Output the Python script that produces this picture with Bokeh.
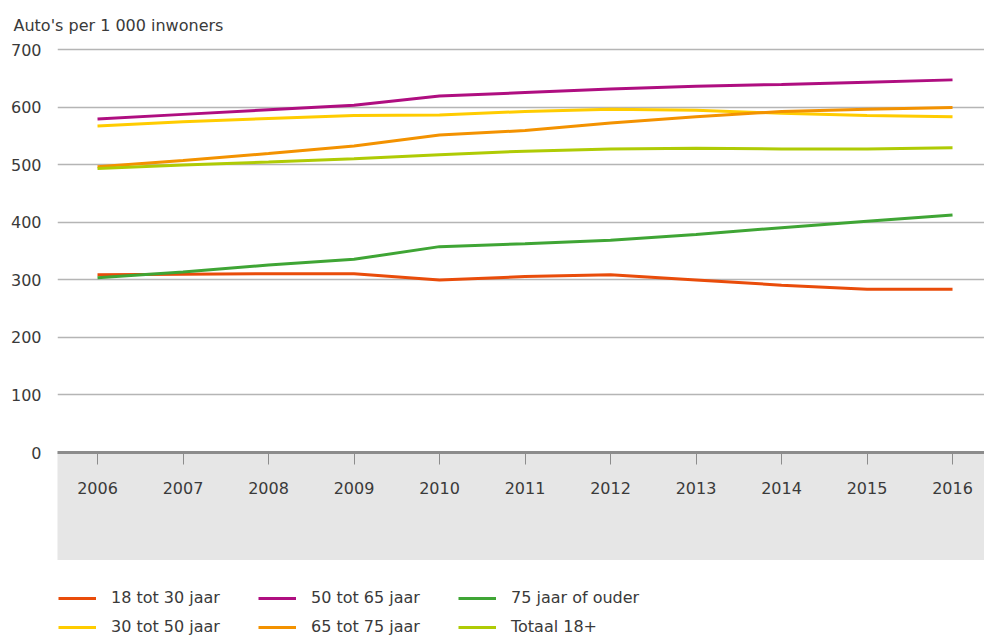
from bokeh.plotting import figure
from bokeh.models import Range1d, FixedTicker, Legend, LegendItem
from bokeh.layouts import column
from bokeh.embed import file_html
from bokeh.resources import INLINE

years = [2006, 2007, 2008, 2009, 2010, 2011, 2012, 2013, 2014, 2015, 2016]
y_ticks = [0, 100, 200, 300, 400, 500, 600, 700]

s18_30 = [309, 310, 311, 311, 300, 306, 309, 300, 291, 284, 284]
s30_50 = [568, 575, 581, 586, 587, 593, 597, 595, 590, 586, 584]
s50_65 = [580, 588, 596, 604, 620, 626, 632, 637, 640, 644, 648]
s65_75 = [497, 508, 520, 533, 552, 560, 573, 584, 593, 597, 600]
s75 = [304, 314, 326, 336, 358, 363, 369, 379, 391, 402, 413]
s_tot = [494, 500, 505, 511, 518, 524, 528, 529, 528, 528, 530]

labels = ["18 tot 30 jaar", "30 tot 50 jaar", "50 tot 65 jaar",
          "65 tot 75 jaar", "75 jaar of ouder", "Totaal 18+"]
colors = ["#E94C0A", "#FFCC00", "#AF0E80", "#F39200", "#3FA535", "#AFCB05"]
series = [s18_30, s30_50, s50_65, s65_75, s75, s_tot]

FONT = "DejaVu Sans"
FS = "16px"
TXT = "#3a3a3a"

p = figure(width=984, height=560, output_backend="svg", toolbar_location=None,
           x_range=Range1d(2005.532, 2016.374), y_range=Range1d(0, 704.3),
           min_border_left=57, min_border_right=0, min_border_top=0, min_border_bottom=0)
p.outline_line_color = None
p.background_fill_color = "white"

p.title.text = "Auto's per 1 000 inwoners"
p.title.text_font = FONT
p.title.text_font_size = FS
p.title.text_font_style = "normal"
p.title.text_color = TXT
p.title.align = "left"
p.title.offset = -54
p.title.standoff = 6
p.title.padding = 10

# y axis
p.yaxis.ticker = FixedTicker(ticks=y_ticks)
p.yaxis.axis_line_color = None
p.yaxis.major_tick_line_color = None
p.yaxis.minor_tick_line_color = None
p.yaxis.major_label_standoff = 10
p.yaxis.major_label_text_font = FONT
p.yaxis.major_label_text_font_size = FS
p.yaxis.major_label_text_color = TXT

p.ygrid.ticker = FixedTicker(ticks=y_ticks)
p.ygrid.grid_line_color = "#b5b5b5"
p.ygrid.grid_line_width = 1.5
p.xgrid.visible = False

# x axis with grey band
xa = p.xaxis[0]
xa.ticker = FixedTicker(ticks=years)
xa.axis_line_color = "#8c8c8c"
xa.axis_line_width = 3
xa.major_tick_out = 12
xa.major_tick_in = 0
xa.major_tick_line_color = "#8c8c8c"
xa.major_tick_line_width = 1
xa.minor_tick_line_color = None
xa.major_label_standoff = 17
xa.major_label_text_font = FONT
xa.major_label_text_font_size = FS
xa.major_label_text_color = TXT
xa.axis_label = " "
xa.axis_label_standoff = 60
xa.axis_label_text_font_size = "1px"
xa.background_fill_color = "#e6e6e6"

for vals, c in zip(series, colors):
    p.line(years, vals, line_color=c, line_width=3)

# legend strip (series drawn outside its visible range, shown only as legend keys)
q = figure(width=984, height=77, output_backend="svg", toolbar_location=None,
           x_range=Range1d(0, 1), y_range=Range1d(0, 1),
           x_axis_type=None, y_axis_type=None,
           min_border_left=0, min_border_right=0, min_border_top=0, min_border_bottom=0)
q.outline_line_color = None
q.xgrid.visible = False
q.ygrid.visible = False
keys = [q.line(years, vals, line_color=c, line_width=3) for vals, c in zip(series, colors)]
items = [LegendItem(label=lab, renderers=[r]) for lab, r in zip(labels, keys)]
legend = Legend(items=items, orientation="vertical", nrows=2,
                location=(1, 1), margin=0, padding=0,
                glyph_width=38, glyph_height=18, label_height=18,
                label_standoff=15, label_width=137, spacing=10,
                label_text_font=FONT, label_text_font_size=FS,
                label_text_color=TXT,
                border_line_color=None, background_fill_alpha=0)
q.add_layout(legend)

layout = column(p, q, spacing=0)

with open("out.html", "w") as f:
    f.write(file_html(layout, INLINE))
